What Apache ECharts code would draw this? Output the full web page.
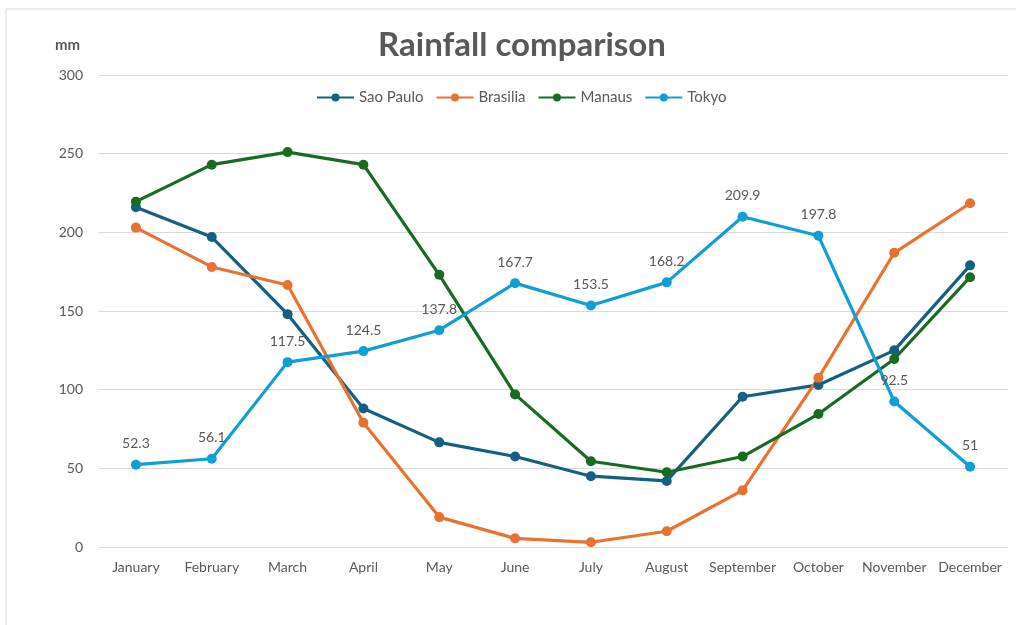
<!DOCTYPE html>
<html>
<head>
<meta charset="utf-8">
<script src="https://cdn.jsdelivr.net/npm/echarts@6/dist/echarts.min.js"></script>
<style>html,body{margin:0;padding:0;background:#fff}#c{width:1016px;height:625px}</style>
</head>
<body>
<div id="c"></div>
<script>
const months = ['January','February','March','April','May','June','July','August','September','October','November','December'];
const yTicks = [0, 50, 100, 150, 200, 250, 300];
const saoPaulo = [216, 197, 148, 88, 66.5, 57.5, 45, 42, 95.5, 103, 125, 179];
const brasilia = [203, 178, 166.5, 79, 19, 5.5, 3, 10, 36, 107.5, 187, 218.5];
const manaus = [219.5, 243, 251, 243, 173, 97, 54.5, 47.5, 57.5, 84.5, 119.5, 171.5];
const tokyo = [52.3, 56.1, 117.5, 124.5, 137.8, 167.7, 153.5, 168.2, 209.9, 197.8, 92.5, 51];

const colors = ['#156082', '#E97132', '#196B24', '#0F9ED5'];
const FONT = 'Lato, "Noto Sans", sans-serif';
const chart = echarts.init(document.getElementById('c'));

function line(name, data, color, labels) {
  return {
    name, type: 'line', data, color,
    symbol: 'circle', symbolSize: 10,
    lineStyle: { width: 3.2, color },
    itemStyle: { color },
    label: labels ? { show: true, position: 'top', distance: 9, color: '#595959', fontSize: 14, fontFamily: FONT } : { show: false },
    z: 2
  };
}

chart.setOption({
  animation: false,
  backgroundColor: '#fff',
  title: {
    text: 'Rainfall comparison', left: 517, top: 24, textAlign: 'center',
    textStyle: { fontSize: 33, fontWeight: 'bold', color: '#595959', fontFamily: FONT }
  },
  graphic: [{
    type: 'rect', shape: { x: 6, y: 9, width: 1100, height: 800 },
    style: { fill: 'none', stroke: '#d9d9d9', lineWidth: 1 }, silent: true
  }],
  legend: {
    top: 85, left: 311,
    itemWidth: 37, itemHeight: 10, itemGap: 12,
    textStyle: { color: '#595959', fontSize: 15, fontFamily: FONT },
    data: ['Sao Paulo', 'Brasilia', 'Manaus', 'Tokyo']
  },
  grid: { left: 98, right: 8, top: 75, bottom: 78 },
  xAxis: {
    type: 'category', data: months, boundaryGap: true,
    axisLine: { show: false }, axisTick: { show: false },
    axisLabel: { color: '#595959', fontSize: 14, fontFamily: FONT, margin: 13, interval: 0 }
  },
  yAxis: {
    type: 'value', min: yTicks[0], max: yTicks[yTicks.length - 1], interval: 50,
    name: 'mm', nameLocation: 'end', nameGap: 22,
    nameTextStyle: { color: '#595959', fontSize: 15, fontWeight: 'bold', fontFamily: FONT, align: 'right', padding: [0, 18, 0, 0] },
    axisLine: { show: false }, axisTick: { show: false },
    axisLabel: { color: '#595959', fontSize: 14, fontFamily: FONT, margin: 15 },
    splitLine: { lineStyle: { color: '#d9d9d9', width: 1 } }
  },
  series: [
    line('Sao Paulo', saoPaulo, colors[0], false),
    line('Brasilia', brasilia, colors[1], false),
    line('Manaus', manaus, colors[2], false),
    line('Tokyo', tokyo, colors[3], true)
  ]
});
</script>
</body>
</html>
